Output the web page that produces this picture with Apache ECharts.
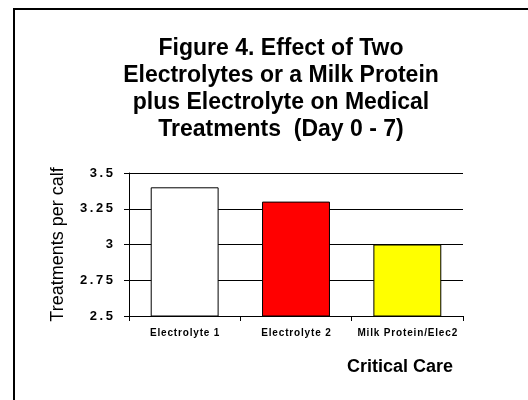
<!DOCTYPE html>
<html><head><meta charset="utf-8">
<script src="https://cdn.jsdelivr.net/npm/echarts@6/dist/echarts.min.js"></script>
<style>html,body{margin:0;padding:0;background:#fff}#c{width:528px;height:400px}</style>
</head><body><div id="c"></div>
<script>
const categories = ['Electrolyte 1', 'Electrolyte 2', 'Milk Protein/Elec2'];
const values = [3.4, 3.3, 3.0];
const barColors = ['#ffffff', '#ff0000', '#ffff00'];
const yTicks = ['2.5', '2.75', '3', '3.25', '3.5'];
const titleText = 'Figure 4. Effect of Two\nElectrolytes or a Milk Protein\nplus Electrolyte on Medical\nTreatments  (Day 0 - 7)';
const yName = 'Treatments per calf';
const xName = 'Critical Care';

const chart = echarts.init(document.getElementById('c'), null, {renderer: 'canvas'});
chart.setOption({
  animation: false,
  backgroundColor: '#fff',
  textStyle: {fontFamily: 'Liberation Sans, Arial, sans-serif'},
  graphic: [{
    type: 'rect', shape: {x: 14, y: 9, width: 600, height: 500},
    style: {fill: 'none', stroke: '#000', lineWidth: 2}, silent: true
  }],
  title: {
    text: titleText, left: 276, top: 30, textAlign: 'center',
    textStyle: {fontSize: 23, fontWeight: 'bold', color: '#000', lineHeight: 27, fontFamily: 'Liberation Sans, Arial, sans-serif'}
  },
  grid: {left: 129, right: 65, top: 173, bottom: 84, containLabel: false},
  xAxis: {
    type: 'category', data: categories,
    name: xName, nameLocation: 'end', nameGap: 0,
    nameTextStyle: {fontSize: 18, fontWeight: 'bold', color: '#000', align: 'right', verticalAlign: 'top', padding: [42, 10, 0, 0]},
    axisLine: {lineStyle: {color: '#000', width: 1}},
    axisTick: {show: true, length: 5, lineStyle: {color: '#000'}, alignWithLabel: false},
    axisLabel: {interval: 0, fontSize: 10, fontWeight: 'bold', color: '#000', margin: 12, formatter: v => v.split('').join('\u200A')}
  },
  yAxis: {
    type: 'value', min: 2.5, max: 3.5, interval: 0.25,
    name: yName, nameLocation: 'middle', nameGap: 62, nameRotate: 90,
    nameTextStyle: {fontSize: 18, color: '#000'},
    axisLine: {show: true, lineStyle: {color: '#000', width: 1}},
    axisTick: {show: true, length: 5, lineStyle: {color: '#000'}},
    splitLine: {show: true, lineStyle: {color: '#000', width: 1}},
    axisLabel: {fontSize: 13, fontWeight: 'bold', color: '#000', margin: 16,
      formatter: v => { const i = Math.round((v - 2.5) / 0.25); return yTicks[i].split('').join('\u2009'); }}
  },
  series: [{
    type: 'bar', barWidth: '61%',
    data: values.map((v, i) => ({value: v, itemStyle: {color: barColors[i], borderColor: '#000', borderWidth: 1}})),
  }]
});
</script></body></html>
